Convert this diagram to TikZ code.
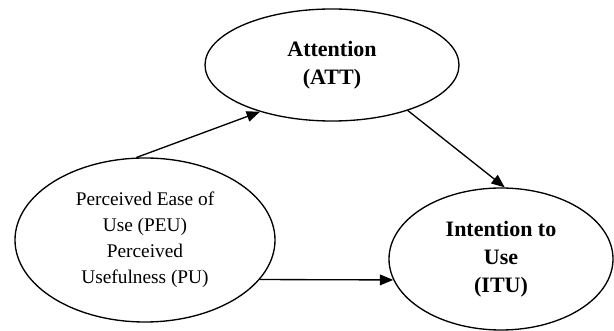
\documentclass[tikz,border=0pt]{standalone}
\usepackage{fontspec}
\setmainfont{Liberation Serif}
\usetikzlibrary{shapes.geometric,arrows.meta}

\tikzset{every picture/.style={line width=0.75pt}}
\tikzset{
	construct/.style={draw, ellipse, inner sep=0pt, align=center, line width=1pt},
	boldlabel/.style={font=\fontsize{16.5}{21}\selectfont\bfseries},
	plainlabel/.style={font=\fontsize{14.5}{19.5}\selectfont},
	link/.style={-{Triangle[length=10pt,width=8pt]}, line width=1pt}
}

\begin{document}
\begin{tikzpicture}[x=0.75pt,y=0.75pt,yscale=-1]
	\useasboundingbox (0,0) rectangle (614,331);

	% Text Node
	\node [construct, boldlabel, minimum width=190.5pt, minimum height=84pt] (att) at (332,65) {Attention\\(ATT)};
	% Text Node
	\node [construct, plainlabel, minimum width=195pt, minimum height=123pt] (peu) at (145,240) {Perceived Ease of\\Use (PEU)\\Perceived\\Usefulness (PU)};
	% Text Node
	\node [construct, boldlabel, minimum width=168pt, minimum height=106.5pt] (itu) at (501,259) {Intention to\\Use\\(ITU)};

	% Connection
	\draw [link] (peu.96) -- (att.213) ;
	% Connection
	\draw [link] (att.329) -- (itu.87) ;
	% Connection
	\draw [link] (peu.-19.6) -- (itu.191) ;

\end{tikzpicture}
\end{document}
